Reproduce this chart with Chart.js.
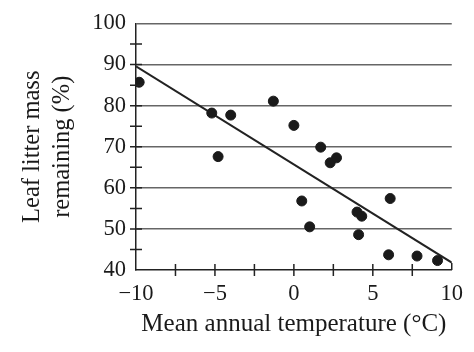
<!DOCTYPE html>
<html>
<head>
<meta charset="utf-8">
<script src="https://cdn.jsdelivr.net/npm/chart.js@4"></script>
<style>
html, body { margin: 0; padding: 0; background: #fff; }
</style>
</head>
<body>
<canvas id="myChart" width="474" height="352"></canvas>
<script>
// Datos
const temperatura = [-9.8, -5.2, -4.0, -4.8, -1.3, 0.0, 1.7, 2.3, 2.7, 0.5, 1.0, 4.0, 4.3, 4.1, 6.1, 6.0, 7.8, 9.1]
const masaRestante = [85.7, 78.2, 77.7, 67.6, 81.1, 75.2, 69.9, 66.1, 67.3, 56.8, 50.5, 54.1, 53.1, 48.6, 57.4, 43.7, 43.4, 42.3]
// Recta de tendencia (extremos)
const tendenciaX = [-10, 10]
const tendenciaY = [89.6, 41.8]
// Marcas de los ejes
const ticksX = [-10, -5, 0, 5, 10]
const ticksY = [40, 50, 60, 70, 80, 90, 100]
const marcasX = [-7.5, -5, -2.5, 0, 2.5, 5, 7.5]
const marcasY = [45, 50, 55, 60, 65, 70, 75, 80, 85, 90, 95]

const ctx = document.getElementById('myChart')
const fuente = 'Liberation Serif'
const menos = v => v < 0 ? '\u2212' + Math.abs(v) : String(v)

// Dibuja las marcas que cruzan los ejes
const marcasEjes = {
    id: 'marcasEjes',
    afterDraw(chart) {
        const { ctx, scales: { x, y } } = chart
        ctx.save()
        ctx.strokeStyle = '#222'
        ctx.lineWidth = 1.5
        ctx.beginPath()
        marcasX.forEach(v => {
            const px = x.getPixelForValue(v)
            ctx.moveTo(px, y.bottom - 6)
            ctx.lineTo(px, y.bottom + 6)
        })
        const fin = x.getPixelForValue(10)
        ctx.moveTo(fin, y.bottom)
        ctx.lineTo(fin, y.bottom - 7)
        marcasY.forEach(v => {
            const py = y.getPixelForValue(v)
            ctx.moveTo(x.left - 6, py)
            ctx.lineTo(x.left + 6, py)
        })
        ctx.stroke()
        ctx.restore()
    }
}

new Chart(ctx, {
    type: 'scatter',
    data: {
        datasets: [
            {
                data: temperatura.map((t, i) => ({ x: t, y: masaRestante[i] })),
                backgroundColor: '#1a1a1a',
                borderColor: '#1a1a1a',
                pointRadius: 5,
                pointHoverRadius: 5
            },
            {
                type: 'line',
                data: tendenciaX.map((t, i) => ({ x: t, y: tendenciaY[i] })),
                borderColor: '#222',
                borderWidth: 2,
                pointRadius: 0,
                fill: false
            }
        ]
    },
    options: {
        responsive: false,
        animation: false,
        layout: { padding: { top: 22, right: 19, left: 0, bottom: 0 } },
        plugins: { legend: { display: false }, tooltip: { enabled: false } },
        scales: {
            x: {
                type: 'linear',
                min: -10,
                max: 10,
                afterBuildTicks: s => { s.ticks = ticksX.map(v => ({ value: v })) },
                afterFit: s => { s.height = 82 },
                grid: { display: false, drawTicks: false },
                border: { display: true, color: '#222', width: 1.5 },
                ticks: {
                    padding: 11,
                    maxRotation: 0,
                    color: '#1a1a1a',
                    font: { family: fuente, size: 22.5 },
                    callback: v => menos(v)
                },
                title: {
                    display: true,
                    text: 'Mean annual temperature (°C)',
                    color: '#1a1a1a',
                    font: { family: fuente, size: 25, lineHeight: '25px' },
                    padding: { bottom: 15 }
                }
            },
            y: {
                type: 'linear',
                min: 40,
                max: 100,
                afterBuildTicks: s => { s.ticks = ticksY.map(v => ({ value: v })) },
                afterFit: s => { s.width = 136 },
                grid: {
                    drawTicks: false,
                    color: c => c.tick && c.tick.value === 40 ? 'rgba(0,0,0,0)' : '#666',
                    lineWidth: 1.5
                },
                border: { display: true, color: '#222', width: 1.5 },
                ticks: {
                    padding: 10,
                    color: '#1a1a1a',
                    font: { family: fuente, size: 22.5 },
                    callback: v => menos(v)
                },
                title: {
                    display: true,
                    text: ['Leaf litter mass', 'remaining (%)'],
                    color: '#1a1a1a',
                    font: { family: fuente, size: 24.5, lineHeight: '30px' },
                    padding: { top: 18 }
                }
            }
        }
    },
    plugins: [marcasEjes]
})
</script>
</body>
</html>
